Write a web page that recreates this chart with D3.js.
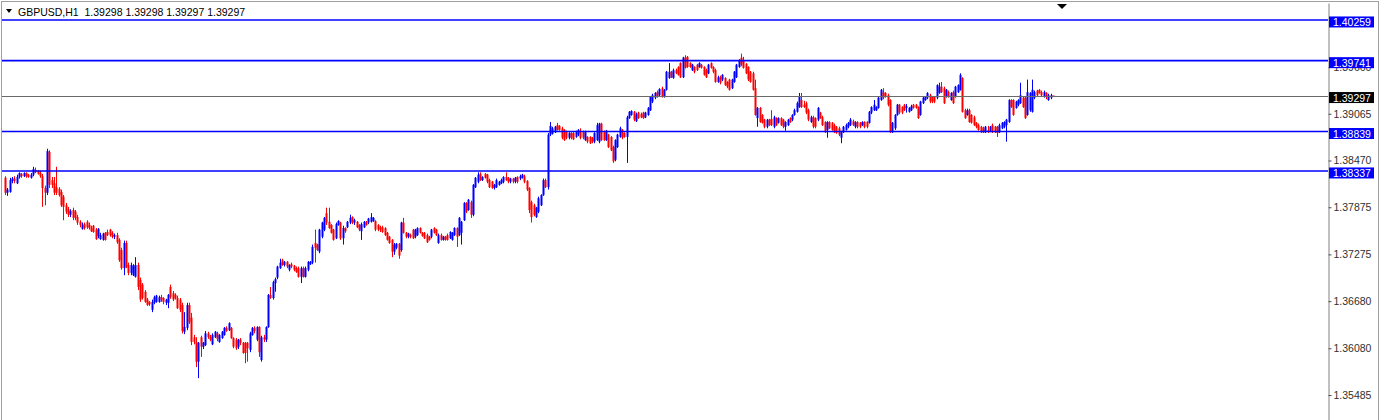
<!DOCTYPE html>
<html>
<head>
<meta charset="utf-8">
<script src="https://d3js.org/d3.v7.min.js"></script>
<style>
  body { margin: 0; background: #fff; }
  svg { display: block; font-family: "Liberation Sans", Arial, sans-serif; }
</style>
</head>
<body>
<svg id="chart" width="1381" height="420"></svg>
<script>
var symbol = "GBPUSD,H1";
var lastQuote = [1.39298, 1.39298, 1.39297, 1.39297];
var levels = [1.40259, 1.39741, 1.38839, 1.38337];
var bid = 1.39297;
var tickValues = [1.39660, 1.39065, 1.38470, 1.37875, 1.37275, 1.36680, 1.36080, 1.35485];

// H1 candles, oldest first: [open, high, low, close]
var ohlc = [
  [1.3825,1.3827,1.3803,1.3806],[1.3806,1.3812,1.3802,1.3810],[1.3807,1.3825,1.3806,1.3822],[1.3821,1.3826,1.3818,1.3824],
  [1.3824,1.3827,1.3818,1.3821],[1.3818,1.3829,1.3817,1.3826],[1.3826,1.3832,1.3824,1.3831],[1.3830,1.3831,1.3825,1.3827],
  [1.3827,1.3832,1.3826,1.3831],[1.3831,1.3832,1.3825,1.3827],[1.3829,1.3830,1.3825,1.3826],[1.3825,1.3831,1.3824,1.3829],
  [1.3829,1.3839,1.3827,1.3836],[1.3835,1.3838,1.3831,1.3832],[1.3834,1.3835,1.3829,1.3830],[1.3831,1.3834,1.3825,1.3827],
  [1.3827,1.3830,1.3788,1.3812],[1.3812,1.3815,1.3790,1.3806],[1.3806,1.3862,1.3803,1.3859],[1.3858,1.3860,1.3812,1.3816],
  [1.3822,1.3826,1.3812,1.3816],[1.3818,1.3826,1.3803,1.3806],[1.3813,1.3839,1.3803,1.3806],[1.3811,1.3813,1.3801,1.3803],
  [1.3807,1.3810,1.3788,1.3790],[1.3801,1.3803,1.3771,1.3788],[1.3790,1.3793,1.3779,1.3782],[1.3785,1.3788,1.3775,1.3778],
  [1.3778,1.3785,1.3775,1.3783],[1.3784,1.3787,1.3771,1.3774],[1.3782,1.3784,1.3771,1.3774],[1.3775,1.3778,1.3765,1.3768],
  [1.3769,1.3771,1.3762,1.3765],[1.3760,1.3768,1.3759,1.3765],[1.3766,1.3768,1.3759,1.3761],[1.3769,1.3771,1.3760,1.3762],
  [1.3765,1.3768,1.3759,1.3761],[1.3761,1.3764,1.3756,1.3757],[1.3764,1.3765,1.3755,1.3756],[1.3759,1.3761,1.3746,1.3747],
  [1.3751,1.3761,1.3748,1.3760],[1.3747,1.3755,1.3746,1.3752],[1.3746,1.3755,1.3745,1.3754],[1.3755,1.3756,1.3745,1.3746],
  [1.3756,1.3759,1.3751,1.3752],[1.3759,1.3760,1.3750,1.3752],[1.3755,1.3757,1.3748,1.3750],[1.3750,1.3754,1.3747,1.3752],
  [1.3752,1.3755,1.3741,1.3743],[1.3746,1.3748,1.3718,1.3720],[1.3733,1.3736,1.3708,1.3710],[1.3710,1.3745,1.3701,1.3742],
  [1.3742,1.3745,1.3710,1.3712],[1.3714,1.3717,1.3701,1.3704],[1.3704,1.3717,1.3701,1.3714],[1.3701,1.3715,1.3700,1.3713],
  [1.3699,1.3724,1.3698,1.3714],[1.3714,1.3717,1.3682,1.3686],[1.3695,1.3698,1.3667,1.3670],[1.3689,1.3691,1.3670,1.3672],
  [1.3680,1.3682,1.3666,1.3667],[1.3670,1.3672,1.3662,1.3663],[1.3667,1.3668,1.3662,1.3664],[1.3657,1.3670,1.3654,1.3667],
  [1.3666,1.3675,1.3664,1.3673],[1.3667,1.3676,1.3666,1.3675],[1.3667,1.3675,1.3666,1.3673],[1.3673,1.3676,1.3667,1.3670],
  [1.3672,1.3673,1.3664,1.3667],[1.3666,1.3671,1.3663,1.3670],[1.3666,1.3677,1.3659,1.3676],[1.3686,1.3689,1.3671,1.3673],
  [1.3678,1.3681,1.3668,1.3670],[1.3676,1.3678,1.3670,1.3672],[1.3672,1.3675,1.3658,1.3659],[1.3670,1.3672,1.3654,1.3657],
  [1.3663,1.3666,1.3627,1.3630],[1.3629,1.3654,1.3626,1.3635],[1.3634,1.3666,1.3631,1.3663],[1.3663,1.3666,1.3639,1.3641],
  [1.3647,1.3653,1.3612,1.3616],[1.3622,1.3625,1.3613,1.3616],[1.3616,1.3622,1.3584,1.3591],[1.3591,1.3616,1.3570,1.3615],
  [1.3622,1.3624,1.3597,1.3610],[1.3610,1.3616,1.3607,1.3615],[1.3612,1.3630,1.3611,1.3627],[1.3627,1.3629,1.3620,1.3622],
  [1.3622,1.3625,1.3617,1.3619],[1.3613,1.3627,1.3612,1.3625],[1.3622,1.3630,1.3621,1.3629],[1.3627,1.3629,1.3617,1.3620],
  [1.3616,1.3626,1.3615,1.3625],[1.3621,1.3630,1.3620,1.3629],[1.3625,1.3635,1.3624,1.3634],[1.3634,1.3636,1.3629,1.3630],
  [1.3631,1.3641,1.3630,1.3640],[1.3634,1.3635,1.3620,1.3621],[1.3621,1.3622,1.3608,1.3610],[1.3619,1.3621,1.3606,1.3608],
  [1.3610,1.3620,1.3607,1.3619],[1.3619,1.3621,1.3612,1.3615],[1.3615,1.3616,1.3601,1.3602],[1.3615,1.3616,1.3589,1.3602],
  [1.3615,1.3616,1.3591,1.3608],[1.3606,1.3629,1.3603,1.3627],[1.3625,1.3635,1.3624,1.3634],[1.3634,1.3636,1.3627,1.3630],
  [1.3619,1.3636,1.3617,1.3635],[1.3635,1.3636,1.3597,1.3603],[1.3593,1.3624,1.3591,1.3622],[1.3622,1.3625,1.3616,1.3619],
  [1.3619,1.3636,1.3616,1.3635],[1.3635,1.3677,1.3634,1.3676],[1.3676,1.3686,1.3671,1.3672],[1.3672,1.3694,1.3670,1.3692],
  [1.3691,1.3698,1.3680,1.3696],[1.3698,1.3713,1.3696,1.3712],[1.3710,1.3722,1.3709,1.3717],[1.3720,1.3722,1.3713,1.3714],
  [1.3714,1.3719,1.3712,1.3718],[1.3718,1.3719,1.3710,1.3712],[1.3708,1.3715,1.3706,1.3714],[1.3715,1.3717,1.3710,1.3712],
  [1.3713,1.3714,1.3706,1.3708],[1.3710,1.3712,1.3704,1.3705],[1.3710,1.3712,1.3698,1.3699],[1.3699,1.3712,1.3691,1.3710],
  [1.3710,1.3712,1.3698,1.3699],[1.3699,1.3712,1.3698,1.3710],[1.3708,1.3719,1.3706,1.3718],[1.3715,1.3719,1.3714,1.3718],
  [1.3717,1.3740,1.3715,1.3737],[1.3742,1.3759,1.3717,1.3736],[1.3740,1.3741,1.3732,1.3733],[1.3731,1.3760,1.3729,1.3759],
  [1.3750,1.3769,1.3748,1.3768],[1.3759,1.3775,1.3757,1.3774],[1.3780,1.3787,1.3765,1.3768],[1.3769,1.3787,1.3760,1.3761],
  [1.3765,1.3766,1.3754,1.3755],[1.3759,1.3760,1.3745,1.3746],[1.3748,1.3768,1.3747,1.3766],[1.3765,1.3771,1.3764,1.3770],
  [1.3768,1.3769,1.3746,1.3748],[1.3748,1.3764,1.3740,1.3761],[1.3761,1.3762,1.3755,1.3757],[1.3762,1.3770,1.3761,1.3769],
  [1.3768,1.3778,1.3766,1.3774],[1.3775,1.3776,1.3766,1.3768],[1.3768,1.3773,1.3765,1.3771],[1.3769,1.3770,1.3761,1.3762],
  [1.3765,1.3766,1.3757,1.3759],[1.3757,1.3768,1.3746,1.3766],[1.3762,1.3770,1.3761,1.3769],[1.3769,1.3770,1.3764,1.3765],
  [1.3768,1.3774,1.3766,1.3773],[1.3769,1.3780,1.3768,1.3775],[1.3770,1.3775,1.3769,1.3774],[1.3770,1.3771,1.3757,1.3759],
  [1.3765,1.3766,1.3757,1.3759],[1.3762,1.3764,1.3756,1.3759],[1.3762,1.3764,1.3755,1.3756],[1.3761,1.3762,1.3751,1.3752],
  [1.3755,1.3756,1.3745,1.3746],[1.3750,1.3751,1.3741,1.3742],[1.3746,1.3747,1.3724,1.3731],[1.3731,1.3742,1.3727,1.3740],
  [1.3736,1.3742,1.3734,1.3741],[1.3741,1.3742,1.3722,1.3726],[1.3733,1.3769,1.3731,1.3768],[1.3768,1.3774,1.3754,1.3755],
  [1.3755,1.3756,1.3748,1.3750],[1.3750,1.3755,1.3748,1.3754],[1.3752,1.3754,1.3748,1.3750],[1.3759,1.3760,1.3747,1.3748],
  [1.3750,1.3760,1.3748,1.3759],[1.3752,1.3762,1.3751,1.3761],[1.3761,1.3762,1.3754,1.3755],[1.3755,1.3756,1.3750,1.3751],
  [1.3755,1.3756,1.3747,1.3748],[1.3752,1.3754,1.3742,1.3743],[1.3750,1.3751,1.3745,1.3746],[1.3750,1.3760,1.3748,1.3759],
  [1.3761,1.3762,1.3754,1.3755],[1.3759,1.3760,1.3751,1.3752],[1.3742,1.3754,1.3741,1.3752],[1.3752,1.3754,1.3745,1.3746],
  [1.3746,1.3751,1.3745,1.3750],[1.3750,1.3751,1.3745,1.3746],[1.3752,1.3754,1.3745,1.3746],[1.3748,1.3757,1.3747,1.3756],
  [1.3746,1.3756,1.3745,1.3755],[1.3752,1.3762,1.3751,1.3761],[1.3761,1.3762,1.3737,1.3750],[1.3752,1.3775,1.3751,1.3774],
  [1.3755,1.3770,1.3740,1.3769],[1.3771,1.3794,1.3770,1.3793],[1.3793,1.3794,1.3780,1.3782],[1.3784,1.3798,1.3783,1.3797],
  [1.3794,1.3796,1.3774,1.3778],[1.3778,1.3817,1.3776,1.3816],[1.3813,1.3826,1.3812,1.3825],[1.3820,1.3832,1.3818,1.3829],
  [1.3830,1.3832,1.3821,1.3822],[1.3822,1.3827,1.3821,1.3826],[1.3830,1.3831,1.3824,1.3825],[1.3829,1.3830,1.3818,1.3820],
  [1.3822,1.3824,1.3812,1.3813],[1.3820,1.3821,1.3811,1.3812],[1.3812,1.3817,1.3810,1.3816],[1.3813,1.3824,1.3812,1.3822],
  [1.3816,1.3821,1.3815,1.3820],[1.3818,1.3824,1.3817,1.3822],[1.3820,1.3827,1.3818,1.3826],[1.3826,1.3832,1.3821,1.3822],
  [1.3825,1.3826,1.3818,1.3820],[1.3820,1.3825,1.3818,1.3824],[1.3824,1.3825,1.3818,1.3820],[1.3820,1.3826,1.3818,1.3825],
  [1.3826,1.3827,1.3818,1.3820],[1.3824,1.3829,1.3822,1.3827],[1.3825,1.3830,1.3824,1.3829],[1.3827,1.3829,1.3818,1.3820],
  [1.3821,1.3822,1.3808,1.3810],[1.3812,1.3813,1.3780,1.3784],[1.3794,1.3796,1.3768,1.3775],[1.3790,1.3792,1.3776,1.3778],
  [1.3775,1.3788,1.3774,1.3787],[1.3782,1.3801,1.3780,1.3799],[1.3790,1.3804,1.3789,1.3803],[1.3803,1.3824,1.3802,1.3822],
  [1.3822,1.3824,1.3812,1.3813],[1.3813,1.3882,1.3810,1.3880],[1.3880,1.3896,1.3878,1.3891],[1.3881,1.3890,1.3880,1.3888],
  [1.3883,1.3891,1.3882,1.3890],[1.3892,1.3895,1.3885,1.3886],[1.3891,1.3892,1.3885,1.3886],[1.3888,1.3890,1.3874,1.3876],
  [1.3886,1.3887,1.3872,1.3873],[1.3883,1.3885,1.3874,1.3876],[1.3876,1.3883,1.3874,1.3882],[1.3882,1.3883,1.3874,1.3876],
  [1.3882,1.3883,1.3873,1.3874],[1.3877,1.3885,1.3876,1.3883],[1.3880,1.3887,1.3878,1.3886],[1.3885,1.3888,1.3874,1.3876],
  [1.3883,1.3885,1.3874,1.3876],[1.3873,1.3885,1.3872,1.3883],[1.3877,1.3878,1.3869,1.3871],[1.3877,1.3878,1.3868,1.3869],
  [1.3876,1.3877,1.3869,1.3871],[1.3871,1.3883,1.3869,1.3882],[1.3873,1.3895,1.3872,1.3892],[1.3871,1.3895,1.3869,1.3894],
  [1.3894,1.3895,1.3872,1.3873],[1.3883,1.3885,1.3872,1.3873],[1.3873,1.3886,1.3872,1.3885],[1.3880,1.3881,1.3863,1.3864],
  [1.3877,1.3878,1.3859,1.3860],[1.3864,1.3866,1.3844,1.3846],[1.3848,1.3874,1.3846,1.3873],[1.3864,1.3881,1.3863,1.3880],
  [1.3877,1.3890,1.3876,1.3888],[1.3886,1.3887,1.3874,1.3876],[1.3882,1.3883,1.3876,1.3877],[1.3877,1.3904,1.3844,1.3902],
  [1.3901,1.3910,1.3900,1.3909],[1.3905,1.3911,1.3904,1.3910],[1.3909,1.3910,1.3897,1.3899],[1.3897,1.3908,1.3896,1.3906],
  [1.3908,1.3909,1.3900,1.3901],[1.3906,1.3908,1.3901,1.3902],[1.3908,1.3909,1.3900,1.3901],[1.3902,1.3909,1.3901,1.3908],
  [1.3905,1.3915,1.3904,1.3914],[1.3911,1.3929,1.3910,1.3928],[1.3922,1.3932,1.3920,1.3930],[1.3927,1.3934,1.3925,1.3933],
  [1.3934,1.3936,1.3927,1.3928],[1.3930,1.3939,1.3929,1.3938],[1.3939,1.3941,1.3927,1.3928],[1.3928,1.3938,1.3927,1.3937],
  [1.3937,1.3961,1.3936,1.3960],[1.3952,1.3971,1.3951,1.3960],[1.3960,1.3961,1.3952,1.3953],[1.3952,1.3964,1.3951,1.3962],
  [1.3962,1.3964,1.3957,1.3958],[1.3966,1.3967,1.3955,1.3956],[1.3971,1.3972,1.3952,1.3953],[1.3953,1.3979,1.3952,1.3978],
  [1.3978,1.3981,1.3964,1.3965],[1.3979,1.3980,1.3965,1.3966],[1.3971,1.3972,1.3965,1.3966],[1.3962,1.3970,1.3961,1.3969],
  [1.3966,1.3967,1.3958,1.3960],[1.3969,1.3970,1.3961,1.3962],[1.3966,1.3972,1.3965,1.3971],[1.3969,1.3970,1.3964,1.3965],
  [1.3966,1.3967,1.3955,1.3956],[1.3962,1.3964,1.3952,1.3953],[1.3958,1.3970,1.3957,1.3969],[1.3971,1.3972,1.3964,1.3965],
  [1.3966,1.3967,1.3958,1.3960],[1.3962,1.3964,1.3946,1.3947],[1.3947,1.3955,1.3946,1.3953],[1.3953,1.3955,1.3944,1.3946],
  [1.3950,1.3957,1.3948,1.3956],[1.3952,1.3953,1.3942,1.3943],[1.3947,1.3948,1.3939,1.3941],[1.3950,1.3951,1.3936,1.3937],
  [1.3939,1.3951,1.3938,1.3950],[1.3947,1.3961,1.3946,1.3960],[1.3953,1.3970,1.3952,1.3969],[1.3966,1.3976,1.3965,1.3975],
  [1.3978,1.3983,1.3967,1.3969],[1.3975,1.3979,1.3964,1.3965],[1.3970,1.3971,1.3957,1.3958],[1.3966,1.3967,1.3948,1.3950],
  [1.3960,1.3961,1.3946,1.3947],[1.3958,1.3960,1.3936,1.3937],[1.3939,1.3950,1.3904,1.3905],[1.3901,1.3915,1.3890,1.3914],
  [1.3914,1.3915,1.3895,1.3896],[1.3905,1.3906,1.3894,1.3895],[1.3899,1.3900,1.3888,1.3890],[1.3890,1.3900,1.3888,1.3899],
  [1.3899,1.3900,1.3891,1.3892],[1.3900,1.3911,1.3891,1.3892],[1.3890,1.3904,1.3888,1.3902],[1.3901,1.3902,1.3891,1.3892],
  [1.3895,1.3902,1.3894,1.3901],[1.3901,1.3902,1.3891,1.3892],[1.3899,1.3900,1.3888,1.3890],[1.3890,1.3897,1.3885,1.3896],
  [1.3892,1.3900,1.3891,1.3899],[1.3901,1.3902,1.3895,1.3896],[1.3899,1.3906,1.3897,1.3905],[1.3905,1.3913,1.3904,1.3911],
  [1.3909,1.3922,1.3908,1.3920],[1.3915,1.3933,1.3914,1.3928],[1.3924,1.3933,1.3914,1.3915],[1.3918,1.3923,1.3914,1.3915],
  [1.3920,1.3922,1.3906,1.3908],[1.3911,1.3913,1.3897,1.3899],[1.3896,1.3904,1.3895,1.3902],[1.3902,1.3904,1.3888,1.3890],
  [1.3901,1.3902,1.3888,1.3890],[1.3899,1.3915,1.3897,1.3914],[1.3908,1.3909,1.3900,1.3901],[1.3902,1.3904,1.3891,1.3892],
  [1.3896,1.3897,1.3882,1.3883],[1.3886,1.3897,1.3876,1.3896],[1.3896,1.3897,1.3887,1.3888],[1.3895,1.3896,1.3885,1.3886],
  [1.3892,1.3894,1.3882,1.3883],[1.3890,1.3891,1.3881,1.3882],[1.3888,1.3890,1.3878,1.3880],[1.3876,1.3885,1.3869,1.3883],
  [1.3883,1.3891,1.3882,1.3890],[1.3886,1.3894,1.3885,1.3892],[1.3890,1.3896,1.3888,1.3895],[1.3892,1.3901,1.3891,1.3899],
  [1.3897,1.3899,1.3891,1.3892],[1.3890,1.3897,1.3888,1.3896],[1.3896,1.3897,1.3888,1.3890],[1.3895,1.3896,1.3888,1.3890],
  [1.3892,1.3897,1.3891,1.3896],[1.3896,1.3897,1.3888,1.3890],[1.3896,1.3897,1.3888,1.3890],[1.3895,1.3910,1.3894,1.3909],
  [1.3908,1.3916,1.3906,1.3915],[1.3911,1.3924,1.3910,1.3918],[1.3911,1.3916,1.3910,1.3915],[1.3914,1.3928,1.3913,1.3927],
  [1.3924,1.3938,1.3923,1.3937],[1.3934,1.3939,1.3925,1.3927],[1.3933,1.3934,1.3927,1.3928],[1.3930,1.3932,1.3916,1.3918],
  [1.3924,1.3925,1.3882,1.3883],[1.3883,1.3896,1.3882,1.3895],[1.3888,1.3906,1.3886,1.3905],[1.3905,1.3919,1.3904,1.3918],
  [1.3918,1.3919,1.3906,1.3908],[1.3915,1.3916,1.3906,1.3908],[1.3918,1.3919,1.3910,1.3911],[1.3914,1.3919,1.3908,1.3916],
  [1.3909,1.3915,1.3908,1.3914],[1.3911,1.3918,1.3910,1.3916],[1.3918,1.3919,1.3913,1.3914],[1.3918,1.3919,1.3913,1.3914],
  [1.3915,1.3916,1.3900,1.3901],[1.3905,1.3923,1.3904,1.3922],[1.3920,1.3928,1.3919,1.3927],[1.3924,1.3929,1.3923,1.3928],
  [1.3927,1.3934,1.3925,1.3933],[1.3930,1.3932,1.3920,1.3922],[1.3928,1.3929,1.3920,1.3922],[1.3928,1.3929,1.3920,1.3922],
  [1.3927,1.3944,1.3925,1.3943],[1.3933,1.3946,1.3932,1.3941],[1.3941,1.3947,1.3933,1.3934],[1.3939,1.3941,1.3919,1.3920],
  [1.3928,1.3938,1.3927,1.3937],[1.3934,1.3936,1.3927,1.3928],[1.3924,1.3934,1.3923,1.3933],[1.3934,1.3936,1.3919,1.3920],
  [1.3928,1.3942,1.3927,1.3941],[1.3934,1.3944,1.3933,1.3943],[1.3937,1.3958,1.3936,1.3956],[1.3952,1.3953,1.3908,1.3909],
  [1.3911,1.3913,1.3900,1.3901],[1.3905,1.3913,1.3904,1.3911],[1.3911,1.3913,1.3895,1.3896],[1.3905,1.3906,1.3894,1.3895],
  [1.3902,1.3904,1.3891,1.3892],[1.3895,1.3896,1.3888,1.3890],[1.3892,1.3894,1.3885,1.3886],[1.3890,1.3891,1.3882,1.3883],
  [1.3888,1.3890,1.3882,1.3883],[1.3883,1.3891,1.3882,1.3890],[1.3886,1.3891,1.3882,1.3883],[1.3885,1.3891,1.3883,1.3890],
  [1.3892,1.3894,1.3882,1.3883],[1.3890,1.3891,1.3882,1.3883],[1.3890,1.3891,1.3877,1.3882],[1.3883,1.3894,1.3882,1.3892],
  [1.3888,1.3896,1.3887,1.3895],[1.3890,1.3897,1.3888,1.3896],[1.3892,1.3900,1.3871,1.3899],[1.3896,1.3925,1.3895,1.3924],
  [1.3924,1.3925,1.3914,1.3915],[1.3924,1.3925,1.3904,1.3905],[1.3914,1.3923,1.3913,1.3922],[1.3918,1.3925,1.3916,1.3924],
  [1.3920,1.3946,1.3919,1.3930],[1.3927,1.3928,1.3914,1.3915],[1.3927,1.3928,1.3900,1.3901],[1.3905,1.3950,1.3904,1.3934],
  [1.3911,1.3934,1.3909,1.3933],[1.3909,1.3950,1.3908,1.3937],[1.3927,1.3936,1.3925,1.3934],[1.3936,1.3937,1.3928,1.3930],
  [1.3937,1.3938,1.3932,1.3933],[1.3934,1.3936,1.3929,1.3930],[1.3928,1.3936,1.3927,1.3934],[1.3933,1.3934,1.3925,1.3928],
  [1.3924,1.3932,1.3923,1.3930],[1.3927,1.3932,1.3925,1.3930],[1.39298,1.39298,1.39297,1.39297]
];

var W = 1381, H = 420, axisX = 1328;
var bullColor = '#0000ff', bearColor = '#ff0000', levelColor = '#0000ff';

var svg = d3.select('#chart');

var x = d3.scaleLinear().domain([0, ohlc.length - 1]).range([5, 1053]);
var y = d3.scaleLinear().domain([1.35167, 1.40475]).range([420, 3]);

// window frame
svg.append('rect')
  .attr('x', 1.5).attr('y', 1.5)
  .attr('width', 1377).attr('height', 420)
  .attr('fill', 'none').attr('stroke', '#a0a0a0');

// price axis
var axis = d3.axisRight(y)
  .tickValues(tickValues)
  .tickSize(3)
  .tickSizeOuter(0)
  .tickFormat(d3.format('.5f'));
var gAxis = svg.append('g')
  .attr('transform', 'translate(' + (axisX + 0.5) + ',0)')
  .call(axis);
gAxis.select('.domain').attr('stroke', '#808080');
gAxis.selectAll('.tick line').attr('stroke', '#505050');
gAxis.selectAll('.tick text')
  .attr('x', 5)
  .attr('fill', '#303030')
  .style('font-size', '10.5px')
  .style('font-family', '"Liberation Sans", Arial, sans-serif');

// candles
var gCandles = svg.append('g');
var candle = gCandles.selectAll('g')
  .data(ohlc)
  .enter()
  .append('g');

function col(d) { return d[3] >= d[0] ? bullColor : bearColor; }

candle.append('line')
  .attr('x1', function(d, i) { return Math.round(x(i)) + 0.5; })
  .attr('x2', function(d, i) { return Math.round(x(i)) + 0.5; })
  .attr('y1', function(d) { return y(d[1]); })
  .attr('y2', function(d) { return y(d[2]); })
  .attr('stroke', col)
  .attr('stroke-width', 1);

candle.append('rect')
  .attr('x', function(d, i) { return Math.round(x(i)) - 0.5; })
  .attr('width', 2)
  .attr('y', function(d) { return y(Math.max(d[0], d[3])); })
  .attr('height', function(d) { return Math.max(1, Math.abs(y(d[0]) - y(d[3]))); })
  .attr('fill', col);

// bid line
svg.append('line')
  .attr('x1', 2).attr('x2', axisX)
  .attr('y1', Math.round(y(bid)) + 0.5).attr('y2', Math.round(y(bid)) + 0.5)
  .attr('stroke', '#6a6a6a').attr('stroke-width', 1);

// horizontal levels
svg.selectAll('line.level')
  .data(levels)
  .enter()
  .append('line')
  .attr('class', 'level')
  .attr('x1', 2).attr('x2', axisX)
  .attr('y1', function(d) { return y(d); })
  .attr('y2', function(d) { return y(d); })
  .attr('stroke', levelColor)
  .attr('stroke-width', 1.6);

// price labels on the axis
var labels = levels.map(function(v) { return { v: v, fill: levelColor }; });
labels.push({ v: bid, fill: '#000000' });

var gLab = svg.selectAll('g.lab')
  .data(labels)
  .enter()
  .append('g')
  .attr('class', 'lab');
gLab.append('rect')
  .attr('x', axisX + 1)
  .attr('y', function(d) { return y(d.v) - 3.5; })
  .attr('width', 45)
  .attr('height', 11)
  .attr('fill', function(d) { return d.fill; });
gLab.append('text')
  .attr('x', axisX + 5)
  .attr('y', function(d) { return y(d.v) + 6; })
  .attr('fill', '#ffffff')
  .style('font-size', '10.5px')
  .text(function(d) { return d3.format('.5f')(d.v); });

// header
svg.append('path')
  .attr('d', 'M6,9 L12,9 L9,13 Z')
  .attr('fill', '#000');
svg.append('text')
  .attr('x', 18).attr('y', 16)
  .attr('fill', '#000')
  .style('font-size', '10.5px')
  .style('white-space', 'pre')
  .text(symbol + '  ' + lastQuote.map(d3.format('.5f')).join(' '));

// chart shift marker
svg.append('path')
  .attr('d', 'M1057,4 L1067,4 L1062,9 Z')
  .attr('fill', '#000');
</script>
</body>
</html>
